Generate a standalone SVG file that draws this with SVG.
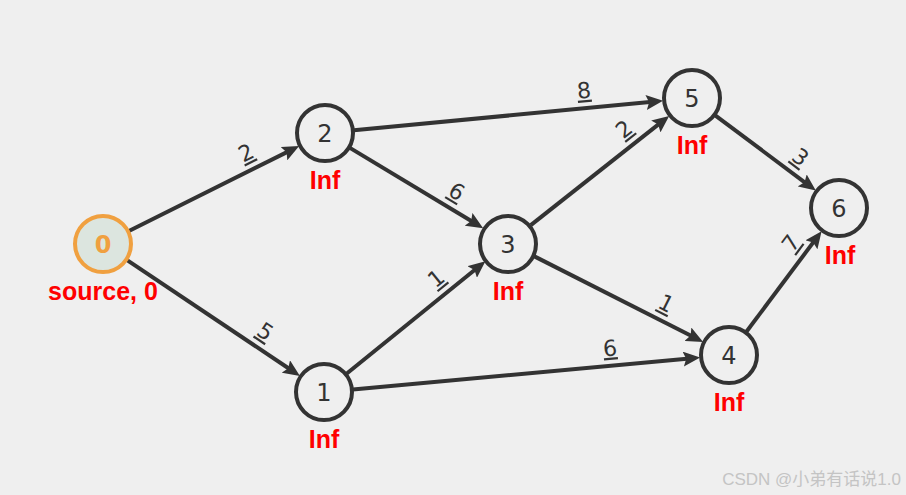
<svg xmlns="http://www.w3.org/2000/svg" width="906" height="495" viewBox="0 0 906 495">
<defs>
<style>
.bg{fill:#efefef}
.nd{fill:none;stroke:#333;stroke-width:4}
.src{fill:#dce5df;stroke:#f0a040;stroke-width:4}
.num{font-family:"DejaVu Sans",sans-serif;font-size:24px;fill:#333;text-anchor:middle}
.num0{fill:#f0a040;font-weight:bold}
.inf{font-family:"Liberation Sans",Arial,sans-serif;font-weight:bold;font-size:25px;fill:#ff0000;text-anchor:middle}
.ed{stroke:#333;stroke-width:4;fill:none;marker-end:url(#ah)}
.el{font-family:"DejaVu Sans",sans-serif;font-size:22px;fill:#333;text-anchor:middle;text-decoration:underline}
.wm{font-family:"Liberation Sans","Noto Sans CJK SC",sans-serif;font-size:17px;fill:#c4c4c4;text-anchor:end}
</style>
<marker id="ah" markerUnits="userSpaceOnUse" markerWidth="17" markerHeight="15" viewBox="0 0 17 15" refX="9" refY="7.5" orient="auto">
<path d="M0,0 L17,7.5 L0,15 L3,7.5 z" fill="#333"/>
</marker>
</defs>
<rect class="bg" x="0" y="0" width="906" height="495"/>
<g id="connectors">
<line class="ed" x1="128.9" y1="231.0" x2="292.0" y2="149.6"/>
<line class="ed" x1="127.1" y1="260.1" x2="293.3" y2="371.5"/>
<line class="ed" x1="353.9" y1="130.2" x2="655.1" y2="101.6"/>
<line class="ed" x1="349.9" y1="147.9" x2="476.3" y2="224.0"/>
<line class="ed" x1="346.5" y1="373.7" x2="479.2" y2="266.3"/>
<line class="ed" x1="530.8" y1="225.1" x2="662.9" y2="120.9"/>
<line class="ed" x1="715.2" y1="115.4" x2="809.4" y2="185.8"/>
<line class="ed" x1="746.4" y1="331.8" x2="816.8" y2="237.6"/>
<line class="ed" x1="533.9" y1="256.1" x2="696.0" y2="338.3"/>
<line class="ed" x1="352.9" y1="389.4" x2="692.2" y2="358.3"/>
<text class="el" transform="translate(254,168.5) rotate(-26.57)" y="-10">2</text>
<text class="el" transform="translate(255.5,346.1) rotate(33.81)" y="-10">5</text>
<text class="el" transform="translate(585.6,108.1) rotate(-5.45)" y="-10">8</text>
<text class="el" transform="translate(447.6,206.7) rotate(31.01)" y="-10">6</text>
<text class="el" transform="translate(447.3,292.2) rotate(-38.99)" y="-10">1</text>
<text class="el" transform="translate(635,143) rotate(-38.24)" y="-10">2</text>
<text class="el" transform="translate(789.8,171.2) rotate(36.81)" y="-10">3</text>
<text class="el" transform="translate(804.9,253.6) rotate(-53.19)" y="-10">7</text>
<text class="el" transform="translate(658.3,319.2) rotate(26.88)" y="-10">1</text>
<text class="el" transform="translate(611.6,365.7) rotate(-5.22)" y="-10">6</text>
</g>
<g id="node0">
<circle class="src" cx="103" cy="244" r="28"/>
<text class="num num0" x="103" y="253">0</text>
<text class="inf" x="103" y="300">source, 0</text>
</g>
<g id="node1">
<circle class="nd" cx="324" cy="392" r="28"/>
<text class="num" x="324" y="401">1</text>
<text class="inf" x="324" y="448">Inf</text>
</g>
<g id="node2">
<circle class="nd" cx="325" cy="133" r="28"/>
<text class="num" x="325" y="142">2</text>
<text class="inf" x="325" y="189">Inf</text>
</g>
<g id="node3">
<circle class="nd" cx="508" cy="244" r="28"/>
<text class="num" x="508" y="253">3</text>
<text class="inf" x="508" y="300">Inf</text>
</g>
<g id="node4">
<circle class="nd" cx="729" cy="355" r="28"/>
<text class="num" x="729" y="364">4</text>
<text class="inf" x="729" y="411">Inf</text>
</g>
<g id="node5">
<circle class="nd" cx="692" cy="98" r="28"/>
<text class="num" x="692" y="107">5</text>
<text class="inf" x="692" y="154">Inf</text>
</g>
<g id="node6">
<circle class="nd" cx="839" cy="208" r="28"/>
<text class="num" x="839" y="217">6</text>
<text class="inf" x="840" y="264">Inf</text>
</g>
<text class="wm" x="901" y="485">CSDN @小弟有话说1.0</text>
</svg>
